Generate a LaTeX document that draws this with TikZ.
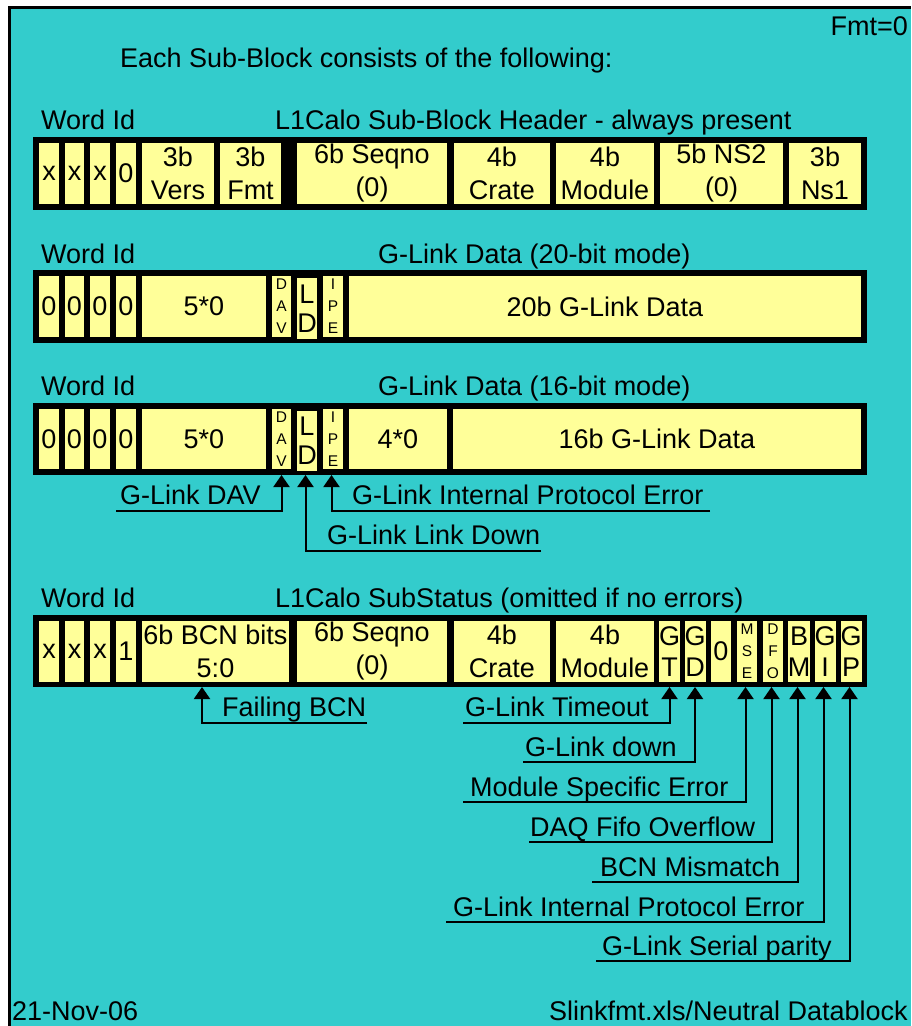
\documentclass[tikz,border=0pt]{standalone}
\usepackage{fontspec}
\setmainfont{Liberation Sans}
\usetikzlibrary{arrows.meta}
\definecolor{tealbg}{RGB}{51,204,204}
\definecolor{yel}{RGB}{255,255,153}
\newcommand\bigf{\fontsize{27}{33}\selectfont}
\newcommand\smallf{\fontsize{15.5}{22}\selectfont}
\newcommand\fcell[7][]{\node[fieldcell,minimum width={#4pt-#3pt},minimum height={#6pt-#5pt},#1] (#2) at ({(#3+#4)/2},{(#5+#6)/2}) {#7};}
\newcommand\wbox[5]{\node[wordbox,minimum width={#3pt-#2pt},minimum height={#5pt-#4pt}] (#1) at ({(#2+#3)/2},{(#4+#5)/2}) {};}
\begin{document}
\begin{tikzpicture}[x=1pt,y=-1pt,font=\bigf,
  fieldcell/.style={fill=yel,inner sep=0pt,outer sep=0pt,align=center},
  wordbox/.style={fill=black,inner sep=0pt,outer sep=0pt},
  lbl/.style={anchor=base west,inner sep=0pt},
  lblr/.style={anchor=base east,inner sep=0pt},
  conn/.style={line width=2pt,-{Triangle[width=16pt,length=12pt]}}]
\useasboundingbox (0,0) rectangle (911,1026);
\fill[black] (8,6) rectangle (911,1026);
\fill[tealbg] (11,9) rectangle (911,1026);

% header texts
\node[lblr] (fmt) at (908,35) {Fmt=0};
\node[lbl] (intro) at (120,67) {Each Sub-Block consists of the following:};

% ---------- Row 1 ----------
\node[lbl] (w1) at (41,129) {Word Id};
\node[lbl] (t1) at (275,129) {L1Calo Sub-Block Header - always present};
\wbox{b1}{33}{867}{137}{210}
\fcell{r1a}{39}{59}{143}{204}{x}
\fcell{r1b}{65}{84}{143}{204}{x}
\fcell{r1c}{90}{110}{143}{204}{x}
\fcell{r1d}{116}{136}{143}{204}{0}
\fcell{r1vers}{142}{214}{143}{204}{3b\\Vers}
\fcell{r1fmt}{220}{281}{143}{204}{3b\\Fmt}
\fcell{r1seq}{297}{447}{143}{204}{6b Seqno\\(0)}
\fcell{r1crate}{454}{550}{143}{204}{4b\\Crate}
\fcell{r1mod}{556}{654}{143}{204}{4b\\Module}
\fcell{r1ns2}{660}{783}{143}{204}{5b NS2\\(0)}
\fcell{r1ns1}{789}{861}{143}{204}{3b\\Ns1}

% ---------- Row 2 ----------
\node[lbl] (w2) at (41,263) {Word Id};
\node[lbl] (t2) at (378,263) {G-Link Data (20-bit mode)};
\wbox{b2}{33}{867}{270}{343}
\fcell{r2a}{39}{59}{276}{337}{0}
\fcell{r2b}{65}{84}{276}{337}{0}
\fcell{r2c}{90}{110}{276}{337}{0}
\fcell{r2d}{116}{136}{276}{337}{0}
\fcell{r2z}{142}{266}{276}{337}{5*0}
\fcell[font=\smallf]{r2dav}{272}{291}{276}{337}{D\\A\\V}
\fcell[font=\fontsize{27}{29}\selectfont,yshift=-2pt]{r2ld}{297}{317}{276}{337}{L\\D}
\fcell[font=\smallf]{r2ipe}{323}{343}{276}{337}{I\\P\\E}
\fcell{r2data}{349}{861}{276}{337}{20b G-Link Data}

% ---------- Row 3 ----------
\node[lbl] (w3) at (41,395) {Word Id};
\node[lbl] (t3) at (378,395) {G-Link Data (16-bit mode)};
\wbox{b3}{33}{867}{403}{475}
\fcell{r3a}{39}{59}{409}{469}{0}
\fcell{r3b}{65}{84}{409}{469}{0}
\fcell{r3c}{90}{110}{409}{469}{0}
\fcell{r3d}{116}{136}{409}{469}{0}
\fcell{r3z}{142}{266}{409}{469}{5*0}
\fcell[font=\smallf]{r3dav}{272}{291}{409}{469}{D\\A\\V}
\fcell[font=\fontsize{27}{29}\selectfont,yshift=-2pt]{r3ld}{297}{317}{409}{469}{L\\D}
\fcell[font=\smallf]{r3ipe}{323}{343}{409}{469}{I\\P\\E}
\fcell{r3z4}{349}{447}{409}{469}{4*0}
\fcell{r3data}{453}{861}{409}{469}{16b G-Link Data}

% row 3 annotations
\coordinate (a3dav) at (116,511);
\coordinate (a3ld) at (541,551);
\coordinate (a3ipe) at (710,511);
\node[lbl] (l3dav) at (120,504) {G-Link DAV};
\node[lbl] (l3ld) at (327,544) {G-Link Link Down};
\node[lbl] (l3ipe) at (352,504) {G-Link Internal Protocol Error};
\draw[conn] (a3dav) -| (r3dav.south |- b3.south);
\draw[conn] (a3ld) -| ([xshift=-1.5pt]r3ld.south |- b3.south);
\draw[conn] (a3ipe) -| ([xshift=-1.5pt]r3ipe.south |- b3.south);

% ---------- Row 4 ----------
\node[lbl] (w4) at (41,607) {Word Id};
\node[lbl] (t4) at (275,607) {L1Calo SubStatus (omitted if no errors)};
\wbox{b4}{33}{867}{615}{687}
\fcell{r4a}{39}{59}{621}{682}{x}
\fcell{r4b}{65}{84}{621}{682}{x}
\fcell{r4c}{90}{110}{621}{682}{x}
\fcell{r4d}{116}{136}{621}{682}{1}
\fcell{r4bcn}{142}{289}{621}{682}{6b BCN bits\\5:0}
\fcell{r4seq}{297}{447}{621}{682}{6b Seqno\\(0)}
\fcell{r4crate}{454}{550}{621}{682}{4b\\Crate}
\fcell{r4mod}{556}{654}{621}{682}{4b\\Module}
\fcell[font=\fontsize{27}{31}\selectfont]{r4gt}{660}{679}{621}{682}{G\\T}
\fcell[font=\fontsize{27}{31}\selectfont]{r4gd}{685}{705}{621}{682}{G\\D}
\fcell{r4z}{711}{731}{621}{682}{0}
\fcell[font=\smallf]{r4mse}{737}{757}{621}{682}{M\\S\\E}
\fcell[font=\smallf]{r4dfo}{763}{783}{621}{682}{D\\F\\O}
\fcell[font=\fontsize{27}{31}\selectfont]{r4bm}{789}{809}{621}{682}{B\\M}
\fcell[font=\fontsize{27}{31}\selectfont]{r4gi}{815}{835}{621}{682}{G\\I}
\fcell[font=\fontsize{27}{31}\selectfont]{r4gp}{841}{861}{621}{682}{G\\P}

% row 4 annotations
\coordinate (a4bcn) at (367,723);
\coordinate (a4gt) at (463,723);
\coordinate (a4gd) at (523,762);
\coordinate (a4mse) at (463,802);
\coordinate (a4dfo) at (529,842);
\coordinate (a4bm) at (592,882);
\coordinate (a4gi) at (446,922);
\coordinate (a4gp) at (596,961);
\node[lbl] (l4bcn) at (222,716) {Failing BCN};
\node[lbl] (l4gt) at (465,716) {G-Link Timeout};
\node[lbl] (l4gd) at (525,756) {G-Link down};
\node[lbl] (l4mse) at (470,796) {Module Specific Error};
\node[lbl] (l4dfo) at (530,836) {DAQ Fifo Overflow};
\node[lbl] (l4bm) at (600,876) {BCN Mismatch};
\node[lbl] (l4gi) at (453,916) {G-Link Internal Protocol Error};
\node[lbl] (l4gp) at (602,955) {G-Link Serial parity};
\draw[conn] (a4bcn) -| ([xshift=-13.5pt]r4bcn.south |- b4.south);
\draw[conn] (a4gt) -| (r4gt.south |- b4.south);
\draw[conn] (a4gd) -| (r4gd.south |- b4.south);
\draw[conn] (a4mse) -| ([xshift=-1.5pt]r4mse.south |- b4.south);
\draw[conn] (a4dfo) -| ([xshift=-1.5pt]r4dfo.south |- b4.south);
\draw[conn] (a4bm) -| ([xshift=-1.5pt]r4bm.south |- b4.south);
\draw[conn] (a4gi) -| ([xshift=-1.5pt]r4gi.south |- b4.south);
\draw[conn] (a4gp) -| ([xshift=-1.5pt]r4gp.south |- b4.south);

% footer
\node[lbl] (date) at (12,1020) {21-Nov-06};
\node[lblr] (src) at (908,1020) {Slinkfmt.xls/Neutral Datablock};
\end{tikzpicture}
\end{document}
